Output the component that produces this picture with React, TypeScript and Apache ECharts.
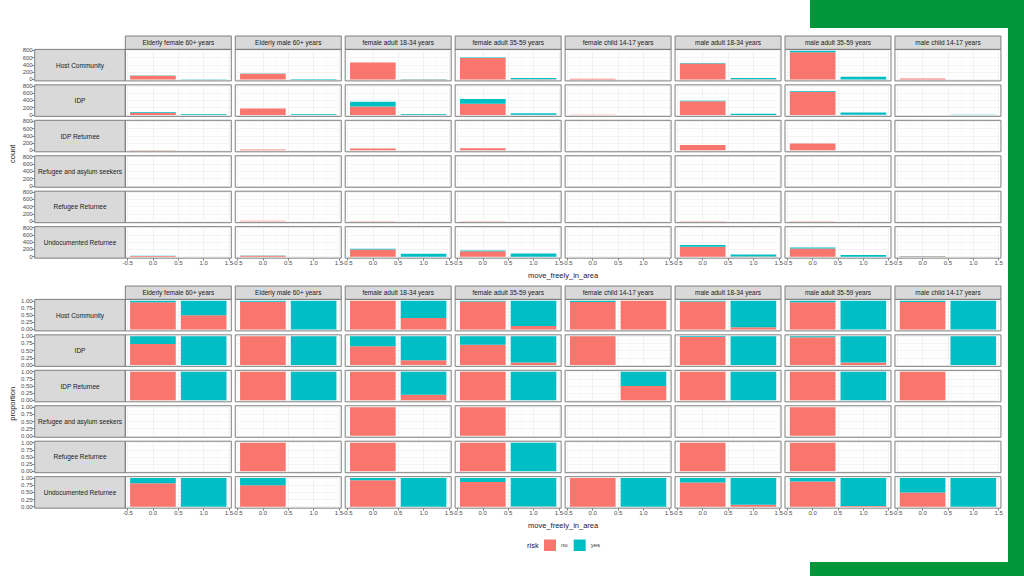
import React, { useEffect, useRef } from "react";
import * as echarts from "echarts";

// ---------------- data ----------------
const facetCols = [
  "Elderly female 60+ years",
  "Elderly male 60+ years",
  "female adult 18-34 years",
  "female adult 35-59 years",
  "female child 14-17 years",
  "male adult 18-34 years",
  "male adult 35-59 years",
  "male child 14-17 years",
];
const facetRows = [
  "Host Community",
  "IDP",
  "IDP Returnee",
  "Refugee and asylum seekers",
  "Refugee Returnee",
  "Undocumented Returnee",
];
const moveLevels = ["0", "1"];
const riskLevels = ["no", "yes"];

// counts, [row][col]; move_freely_in_area = 0
const noAtZero = [
  [105, 160, 470, 590, 22, 440, 748, 25],
  [60, 175, 235, 305, 3, 378, 640, 0],
  [10, 25, 50, 60, 0, 150, 190, 3],
  [0, 0, 2, 2, 0, 0, 2, 0],
  [0, 12, 10, 10, 0, 10, 10, 0],
  [23, 24, 200, 148, 2, 275, 225, 10],
];
const yesAtZero = [
  [5, 5, 0, 15, 1, 12, 40, 1],
  [22, 0, 125, 130, 0, 10, 20, 0],
  [0, 0, 0, 0, 0, 0, 0, 0],
  [0, 0, 0, 0, 0, 0, 0, 0],
  [0, 0, 0, 0, 0, 0, 0, 0],
  [5, 8, 16, 24, 0, 50, 30, 10],
];
// move_freely_in_area = 1
const noAtOne = [
  [2, 0, 4, 5, 2, 3, 0, 0],
  [0, 0, 4, 4, 0, 0, 6, 0],
  [0, 0, 1, 0, 1, 0, 0, 0],
  [0, 0, 0, 0, 0, 0, 0, 0],
  [0, 0, 0, 0, 0, 0, 0, 0],
  [0, 0, 0, 1, 0, 4, 1, 0],
];
const yesAtOne = [
  [2, 15, 6, 35, 0, 35, 72, 2],
  [18, 15, 20, 42, 0, 35, 62, 6],
  [2, 3, 4, 3, 1, 3, 3, 0],
  [0, 0, 0, 0, 0, 0, 0, 0],
  [0, 0, 0, 1, 0, 0, 0, 0],
  [2, 0, 80, 88, 2, 55, 45, 2],
];

// ---------------- style / layout ----------------
const FONT = "'Liberation Sans', Arial, Helvetica, sans-serif";
const RED = "#F8766D";
const CYAN = "#00BFC4";
const BORDER = "#7f7f7f";
const STRIP_FILL = "#d9d9d9";
const COL_LEFT0 = 125.3;
const COL_STEP = 109.95;
const PANEL_W = 106;
const ROW_STEP = 35.45;
const PANEL_H = 31.5;
const ROW_STRIP_LEFT = 34.7;

function buildOption() {
  const grids: any[] = [];
  const xAxes: any[] = [];
  const yAxes: any[] = [];
  const series: any[] = [];
  const graphics: any[] = [];

  const totals: number[] = [];
  facetRows.forEach((_, j) =>
    facetCols.forEach((__, i) => {
      totals.push(noAtZero[j][i] + yesAtZero[j][i]);
      totals.push(noAtOne[j][i] + yesAtOne[j][i]);
    })
  );
  const countMax = Math.max(...totals);

  const plots = [
    {
      kind: "count",
      top0: 49.4,
      stripTop: 36,
      yMax: 800,
      yInterval: 200,
      M: countMax,
      title: "count",
      fmt: (v: number) => String(v),
    },
    {
      kind: "proportion",
      top0: 299.4,
      stripTop: 286,
      yMax: 1,
      yInterval: 0.25,
      M: 1,
      title: "proportion",
      fmt: (v: number) => v.toFixed(2),
    },
  ];

  plots.forEach((pl) => {
    // column strips
    facetCols.forEach((colName, i) => {
      const L = COL_LEFT0 + COL_STEP * i;
      graphics.push({
        type: "rect",
        z: 50,
        shape: { x: L, y: pl.stripTop, width: PANEL_W, height: pl.top0 - pl.stripTop },
        style: { fill: STRIP_FILL, stroke: BORDER, lineWidth: 1 },
      });
      graphics.push({
        type: "text",
        z: 51,
        x: L + PANEL_W / 2,
        y: (pl.stripTop + pl.top0) / 2,
        style: {
          text: colName,
          fontSize: 6.5,
          fontFamily: FONT,
          fill: "#1a1a1a",
          align: "center",
          verticalAlign: "middle",
        },
      });
    });
    // row strips
    facetRows.forEach((rowName, j) => {
      const T = pl.top0 + ROW_STEP * j;
      graphics.push({
        type: "rect",
        z: 50,
        shape: { x: ROW_STRIP_LEFT, y: T, width: COL_LEFT0 - ROW_STRIP_LEFT, height: PANEL_H },
        style: { fill: STRIP_FILL, stroke: BORDER, lineWidth: 1 },
      });
      graphics.push({
        type: "text",
        z: 51,
        x: (ROW_STRIP_LEFT + COL_LEFT0) / 2,
        y: T + PANEL_H / 2,
        style: {
          text: rowName,
          fontSize: 6.5,
          fontFamily: FONT,
          fill: "#1a1a1a",
          align: "center",
          verticalAlign: "middle",
        },
      });
    });
    // axis titles
    const plotTop = pl.top0;
    const plotBottom = pl.top0 + ROW_STEP * (facetRows.length - 1) + PANEL_H;
    graphics.push({
      type: "text",
      x: 12,
      y: (plotTop + plotBottom) / 2,
      rotation: Math.PI / 2,
      style: {
        text: pl.title,
        fontSize: 7.5,
        fontFamily: FONT,
        fill: "#222",
        align: "center",
        verticalAlign: "middle",
      },
    });
    graphics.push({
      type: "text",
      x: COL_LEFT0 + (COL_STEP * (facetCols.length - 1) + PANEL_W) / 2,
      y: plotBottom + 17.5,
      style: {
        text: "move_freely_in_area",
        fontSize: 7.5,
        fontFamily: FONT,
        fill: "#222",
        align: "center",
        verticalAlign: "middle",
      },
    });

    facetRows.forEach((_, j) => {
      facetCols.forEach((__, i) => {
        const k = grids.length;
        const L = COL_LEFT0 + COL_STEP * i;
        const T = pl.top0 + ROW_STEP * j;
        const B = T + PANEL_H;
        const xu = PANEL_W / 2.09;
        const yu = PANEL_H / (1.1 * pl.M);
        const gb = B - 0.05 * pl.M * yu;
        const gt = gb - pl.yMax * yu;
        grids.push({ left: L + 0.045 * xu, top: gt, width: 2 * xu, height: gb - gt });
        const bottomRow = j === facetRows.length - 1;
        const firstCol = i === 0;

        xAxes.push({
          type: "value",
          gridIndex: k,
          min: -0.5,
          max: 1.5,
          interval: 0.5,
          position: "bottom",
          offset: B - gb,
          axisLine: { show: false, onZero: false },
          axisTick: { show: bottomRow, length: 2.5, lineStyle: { color: "#333", width: 0.6 } },
          axisLabel: {
            show: bottomRow,
            margin: 2,
            fontSize: 6,
            color: "#4d4d4d",
            fontFamily: FONT,
            showMinLabel: true,
            showMaxLabel: true,
            formatter: (v: number) => v.toFixed(1),
          },
          splitLine: { show: true, lineStyle: { color: "#ebebeb", width: 0.6 } },
          minorTick: { show: false, splitNumber: 2 },
          minorSplitLine: { show: true, lineStyle: { color: "#f5f5f5", width: 0.4 } },
        });
        xAxes.push({
          type: "category",
          gridIndex: k,
          data: moveLevels,
          show: false,
          boundaryGap: true,
          position: "bottom",
          axisLine: { show: false, onZero: false },
        });
        yAxes.push({
          type: "value",
          gridIndex: k,
          min: 0,
          max: pl.yMax,
          interval: pl.yInterval,
          position: "left",
          offset: L + 0.045 * xu - ROW_STRIP_LEFT,
          axisLine: { show: false, onZero: false },
          axisTick: { show: firstCol, length: 2.5, lineStyle: { color: "#333", width: 0.6 } },
          axisLabel: {
            show: firstCol,
            margin: 2,
            fontSize: 6,
            color: "#4d4d4d",
            fontFamily: FONT,
            showMinLabel: true,
            showMaxLabel: true,
            formatter: pl.fmt,
          },
          splitLine: { show: true, lineStyle: { color: "#ebebeb", width: 0.6 } },
          minorTick: { show: false, splitNumber: 2 },
          minorSplitLine: { show: true, lineStyle: { color: "#f5f5f5", width: 0.4 } },
        });

        const counts = {
          no: [noAtZero[j][i], noAtOne[j][i]],
          yes: [yesAtZero[j][i], yesAtOne[j][i]],
        };
        const tot = [counts.no[0] + counts.yes[0], counts.no[1] + counts.yes[1]];
        riskLevels.forEach((r) => {
          const vals = (counts as any)[r] as number[];
          const data =
            pl.kind === "count"
              ? vals.map((v) => (v > 0 ? v : "-"))
              : vals.map((v, m) => (tot[m] > 0 && v > 0 ? v / tot[m] : "-"));
          series.push({
            type: "bar",
            name: r,
            xAxisIndex: 2 * k + 1,
            yAxisIndex: k,
            stack: "s" + pl.kind + k,
            barWidth: "90%",
            data,
            silent: true,
            itemStyle: { color: r === "no" ? RED : CYAN },
          });
        });

        graphics.push({
          type: "rect",
          z: 50,
          shape: { x: L, y: T, width: PANEL_W, height: PANEL_H },
          style: { fill: "none", stroke: BORDER, lineWidth: 1 },
        });
      });
    });
  });

  // legend title
  graphics.push({
    type: "text",
    x: 527,
    y: 545.5,
    style: {
      text: "risk",
      fontSize: 7.5,
      fontFamily: FONT,
      fill: "#222",
      align: "left",
      verticalAlign: "middle",
    },
  });

  // decorative green frame
  graphics.push({ type: "rect", z: 60, shape: { x: 810, y: 0, width: 214, height: 28 }, style: { fill: "#009639" } });
  graphics.push({ type: "rect", z: 60, shape: { x: 1008, y: 0, width: 16, height: 576 }, style: { fill: "#009639" } });
  graphics.push({ type: "rect", z: 60, shape: { x: 810, y: 562, width: 214, height: 14 }, style: { fill: "#009639" } });

  return {
    animation: false,
    backgroundColor: "#ffffff",
    grid: grids,
    xAxis: xAxes,
    yAxis: yAxes,
    series,
    legend: {
      data: riskLevels,
      left: 544,
      top: 539.5,
      padding: 0,
      itemWidth: 12,
      itemHeight: 11.5,
      itemGap: 6,
      icon: "rect",
      selectedMode: false,
      textStyle: { fontSize: 6, color: "#333", fontFamily: FONT },
    },
    graphic: graphics,
  };
}

export default function App() {
  const ref = useRef<HTMLDivElement>(null);
  useEffect(() => {
    const chart = echarts.init(ref.current!, null, { renderer: "svg" });
    chart.setOption(buildOption() as any);
    return () => chart.dispose();
  }, []);
  return (
    <div
      ref={ref}
      style={{ position: "fixed", left: 0, top: 0, width: 1024, height: 576, background: "#fff" }}
    />
  );
}
